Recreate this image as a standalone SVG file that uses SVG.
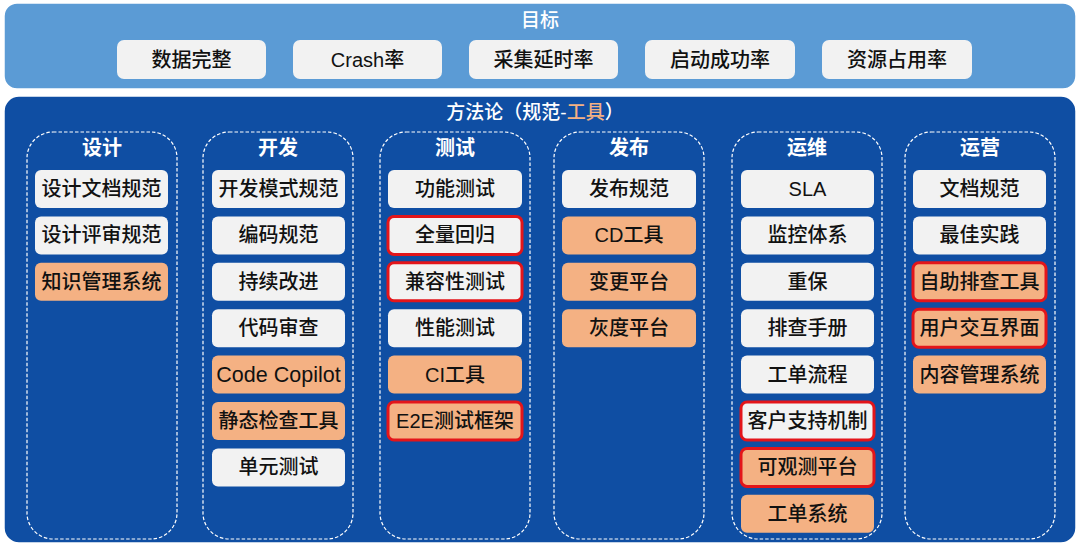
<svg xmlns="http://www.w3.org/2000/svg" width="1080" height="546" viewBox="0 0 1080 546">
<style>
text{font-family:"Liberation Sans","Noto Sans CJK SC",sans-serif;text-anchor:middle;dominant-baseline:central}
.panel1{fill:#5b9bd5;stroke:#ffffff;stroke-width:1.5}
.panel2{fill:#0f4ea3;stroke:#ffffff;stroke-width:1.5}
.ttl{fill:#ffffff;font-size:19px;font-weight:500}
.col{fill:none;stroke:#ffffff;stroke-width:1.2;stroke-dasharray:3.5 2}
.ct{fill:#ffffff;font-size:20px;font-weight:700}
.w{fill:#f2f2f2}
.o{fill:#f4b183}
.r{stroke:#e3151a;stroke-width:3}
.t{fill:#111111;font-size:20px;font-weight:500}
.g{fill:#f2f2f2}
</style>
<g id="goals-panel">
<rect class="panel1" x="4" y="3" width="1072" height="86" rx="13"/>
<text class="ttl" x="540" y="20">目标</text>
</g>
<g id="goal-1"><rect class="g" x="117" y="40" width="149" height="39" rx="7"/><text class="t" x="191.5" y="59.5">数据完整</text></g>
<g id="goal-2"><rect class="g" x="293" y="40" width="149" height="39" rx="7"/><text class="t" x="367.5" y="59.5">Crash率</text></g>
<g id="goal-3"><rect class="g" x="469" y="40" width="149" height="39" rx="7"/><text class="t" x="543.5" y="59.5">采集延时率</text></g>
<g id="goal-4"><rect class="g" x="645" y="40" width="150" height="39" rx="7"/><text class="t" x="720" y="60">启动成功率</text></g>
<g id="goal-5"><rect class="g" x="822" y="40" width="150" height="39" rx="7"/><text class="t" x="897" y="59.5">资源占用率</text></g>

<g id="method-panel">
<rect class="panel2" x="4" y="96" width="1072" height="447" rx="15"/>
<text class="ttl" x="535" y="112">方法论（规范-<tspan fill="#f4b183">工具</tspan>）</text>
</g>

<g id="col-design">
<rect class="col" x="27" y="132" width="150" height="407" rx="26"/>
<text class="ct" x="102" y="148">设计</text>
<rect class="w" x="35" y="170" width="133" height="38" rx="6"/><text class="t" x="101.5" y="189">设计文档规范</text>
<rect class="w" x="35" y="216.4" width="133" height="38" rx="6"/><text class="t" x="101.5" y="235.4">设计评审规范</text>
<rect class="o" x="35" y="262.8" width="133" height="38" rx="6"/><text class="t" x="101.5" y="281.8">知识管理系统</text>
</g>

<g id="col-dev">
<rect class="col" x="203" y="132" width="150" height="407" rx="26"/>
<text class="ct" x="278" y="148">开发</text>
<rect class="w" x="212" y="170" width="133" height="38" rx="6"/><text class="t" x="278.5" y="189">开发模式规范</text>
<rect class="w" x="212" y="216.4" width="133" height="38" rx="6"/><text class="t" x="278.5" y="235.4">编码规范</text>
<rect class="w" x="212" y="262.8" width="133" height="38" rx="6"/><text class="t" x="278.5" y="281.8">持续改进</text>
<rect class="w" x="212" y="309.2" width="133" height="38" rx="6"/><text class="t" x="278.5" y="328.2">代码审查</text>
<rect class="o" x="212" y="355.6" width="133" height="38" rx="6"/><text class="t" x="278.5" y="374.6" style="font-size:21.5px">Code Copilot</text>
<rect class="o" x="212" y="402" width="133" height="38" rx="6"/><text class="t" x="278.5" y="421">静态检查工具</text>
<rect class="w" x="212" y="448.4" width="133" height="38" rx="6"/><text class="t" x="278.5" y="467.4">单元测试</text>
</g>

<g id="col-test">
<rect class="col" x="380" y="132" width="150" height="407" rx="26"/>
<text class="ct" x="455" y="148">测试</text>
<rect class="w" x="388" y="170" width="134" height="38" rx="6"/><text class="t" x="455" y="189">功能测试</text>
<rect class="w r" x="388" y="216.4" width="134" height="38" rx="6"/><text class="t" x="455" y="235.4">全量回归</text>
<rect class="w r" x="388" y="262.8" width="134" height="38" rx="6"/><text class="t" x="455" y="281.8">兼容性测试</text>
<rect class="w" x="388" y="309.2" width="134" height="38" rx="6"/><text class="t" x="455" y="328.2">性能测试</text>
<rect class="o" x="388" y="355.6" width="134" height="38" rx="6"/><text class="t" x="455" y="374.6">CI工具</text>
<rect class="o r" x="388" y="402" width="134" height="38" rx="6"/><text class="t" x="455" y="421">E2E测试框架</text>
</g>

<g id="col-release">
<rect class="col" x="554" y="132" width="150" height="407" rx="26"/>
<text class="ct" x="629" y="148">发布</text>
<rect class="w" x="562" y="170" width="134" height="38" rx="6"/><text class="t" x="629" y="189">发布规范</text>
<rect class="o" x="562" y="216.4" width="134" height="38" rx="6"/><text class="t" x="629" y="235.4">CD工具</text>
<rect class="o" x="562" y="262.8" width="134" height="38" rx="6"/><text class="t" x="629" y="281.8">变更平台</text>
<rect class="o" x="562" y="309.2" width="134" height="38" rx="6"/><text class="t" x="629" y="328.2">灰度平台</text>
</g>

<g id="col-ops">
<rect class="col" x="732" y="132" width="150" height="407" rx="26"/>
<text class="ct" x="807" y="148">运维</text>
<rect class="w" x="741" y="170" width="133" height="38" rx="6"/><text class="t" x="807.5" y="189">SLA</text>
<rect class="w" x="741" y="216.4" width="133" height="38" rx="6"/><text class="t" x="807.5" y="235.4">监控体系</text>
<rect class="w" x="741" y="262.8" width="133" height="38" rx="6"/><text class="t" x="807.5" y="281.8">重保</text>
<rect class="w" x="741" y="309.2" width="133" height="38" rx="6"/><text class="t" x="807.5" y="328.2">排查手册</text>
<rect class="w" x="741" y="355.6" width="133" height="38" rx="6"/><text class="t" x="807.5" y="374.6">工单流程</text>
<rect class="w r" x="741" y="402" width="133" height="38" rx="6"/><text class="t" x="807.5" y="421">客户支持机制</text>
<rect class="o r" x="741" y="448.4" width="133" height="38" rx="6"/><text class="t" x="807.5" y="467.4">可观测平台</text>
<rect class="o" x="741" y="494.8" width="133" height="38" rx="6"/><text class="t" x="807.5" y="513.8">工单系统</text>
</g>

<g id="col-operate">
<rect class="col" x="905" y="132" width="150" height="407" rx="26"/>
<text class="ct" x="980" y="148">运营</text>
<rect class="w" x="913" y="170" width="133" height="38" rx="6"/><text class="t" x="979.5" y="189">文档规范</text>
<rect class="w" x="913" y="216.4" width="133" height="38" rx="6"/><text class="t" x="979.5" y="235.4">最佳实践</text>
<rect class="o r" x="913" y="262.8" width="133" height="38" rx="6"/><text class="t" x="979.5" y="281.8">自助排查工具</text>
<rect class="o r" x="913" y="309.2" width="133" height="38" rx="6"/><text class="t" x="979.5" y="328.2">用户交互界面</text>
<rect class="o" x="913" y="355.6" width="133" height="38" rx="6"/><text class="t" x="979.5" y="374.6">内容管理系统</text>
</g>

<g id="connectors"></g>
</svg>
